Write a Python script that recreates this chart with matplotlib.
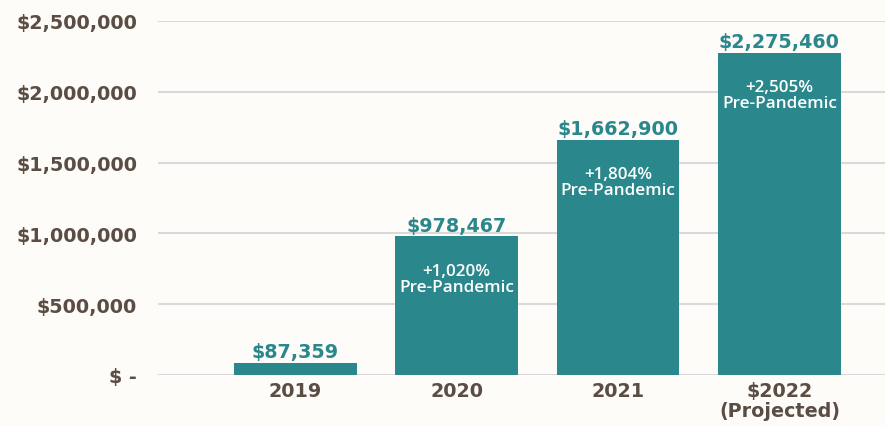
import matplotlib
matplotlib.use("Agg")
import matplotlib.pyplot as plt

categories = ["2019", "2020", "2021", "$2022\n(Projected)"]
values = [87359, 978467, 1662900, 2275460]
value_labels = ["$87,359", "$978,467", "$1,662,900", "$2,275,460"]
inner_labels = ["", "+1,020%\nPre-Pandemic", "+1,804%\nPre-Pandemic", "+2,505%\nPre-Pandemic"]
yticks = [0, 500000, 1000000, 1500000, 2000000, 2500000]
ytick_labels = ["$ -", "$500,000", "$1,000,000", "$1,500,000", "$2,000,000", "$2,500,000"]

bg = "#FDFCF8"
teal = "#2A878C"
brown = "#5B4D44"
grid = "#D9D9D9"

plt.rcParams['font.family'] = ['DejaVu Sans']

fig = plt.figure(figsize=(8.85, 4.27), dpi=100, facecolor=bg)
ax = fig.add_axes([158/885, 1-376/427, 1-158/885, (376-22)/427])
ax.set_facecolor(bg)

x = list(range(len(categories)))
bars = ax.bar(x, values, width=0.76, color=teal, zorder=3)
ax.set_xlim(-0.85, 3.654)
ax.set_ylim(0, 2500000)
ax.set_yticks(yticks)
ax.set_yticklabels(ytick_labels, fontsize=13.8, fontweight='bold', color=brown)
ax.set_xticks(x)
ax.set_xticklabels(categories, fontsize=13.8, fontweight='bold', color=brown, linespacing=1.08)
ax.tick_params(axis='both', length=0)
ax.tick_params(axis='y', pad=15)
ax.tick_params(axis='x', pad=4.5)
for s in ax.spines.values():
    s.set_visible(False)
ax.yaxis.grid(True, color=grid, linewidth=1.5, zorder=0)
ax.set_axisbelow(True)

for xi, v, lab, inner in zip(x, values, value_labels, inner_labels):
    ax.annotate(lab, (xi, v), xytext=(0, 1), textcoords='offset points',
                ha='center', va='bottom', fontsize=13.8, fontweight='bold', color=teal, zorder=4)
    if inner:
        ax.annotate(inner, (xi, v), xytext=(0, -19), textcoords='offset points',
                    ha='center', va='top', fontsize=12.3, fontweight='semibold', color='white',
                    family=['Open Sans', 'DejaVu Sans'], linespacing=1.0, zorder=4)

fig.savefig("out.png", dpi=100, facecolor=bg)
